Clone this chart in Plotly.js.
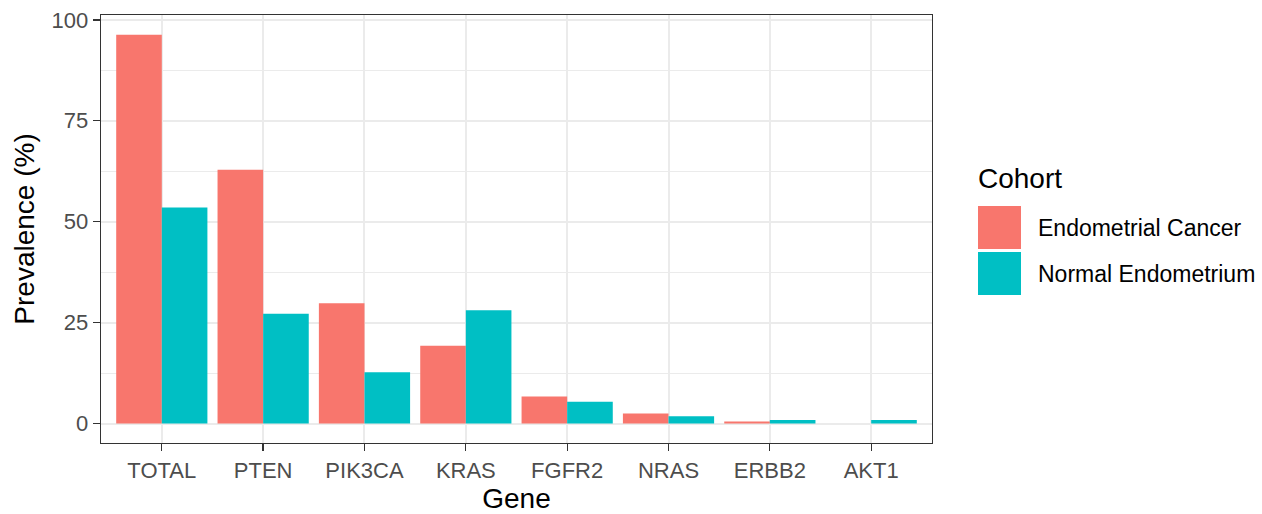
<!DOCTYPE html>
<html>
<head>
<meta charset="utf-8">
<script src="https://cdn.plot.ly/plotly-3.0.1.min.js"></script>
<style>html,body{margin:0;padding:0;background:#fff;}#chart{width:1262px;height:514px;}</style>
</head>
<body>
<div id="chart"></div>
<script>
const genes = ["TOTAL", "PTEN", "PIK3CA", "KRAS", "FGFR2", "NRAS", "ERBB2", "AKT1"];
const cancerValues = [96.3, 62.9, 29.8, 19.3, 6.7, 2.5, 0.5, 0];
const normalValues = [53.5, 27.2, 12.7, 28.1, 5.4, 1.8, 0.9, 0.9];
const seriesNames = ["Endometrial Cancer", "Normal Endometrium"];
const yTicks = [0, 25, 50, 75, 100];

const colors = ["#F8766D", "#00BFC4"];
const FONT = "Liberation Sans, Arial, sans-serif";

const traces = [
  {type: "bar", name: seriesNames[0], x: genes, y: cancerValues, marker: {color: colors[0]}, showlegend: false, hoverinfo: "x+y"},
  {type: "bar", name: seriesNames[1], x: genes, y: normalValues, marker: {color: colors[1]}, showlegend: false, hoverinfo: "x+y"}
];

// legend geometry in paper coords (plot area: x 101..932, y 15..443)
const px = v => (v - 101) / 831;
const py = v => (443 - v) / 428;

const shapes = [
  {type: "rect", xref: "paper", yref: "paper", x0: px(978), x1: px(1021), y0: py(249), y1: py(206), fillcolor: colors[0], line: {width: 0}},
  {type: "rect", xref: "paper", yref: "paper", x0: px(978), x1: px(1021), y0: py(295), y1: py(252), fillcolor: colors[1], line: {width: 0}}
];
const annotations = [
  {xref: "paper", yref: "paper", x: px(976), y: py(178), xanchor: "left", yanchor: "middle", showarrow: false, text: "Cohort", font: {family: FONT, size: 28, color: "#000"}},
  {xref: "paper", yref: "paper", x: px(1036), y: py(228), xanchor: "left", yanchor: "middle", showarrow: false, text: seriesNames[0], font: {family: FONT, size: 23, color: "#000"}},
  {xref: "paper", yref: "paper", x: px(1036), y: py(274), xanchor: "left", yanchor: "middle", showarrow: false, text: seriesNames[1], font: {family: FONT, size: 23, color: "#000"}}
];

const layout = {
  width: 1262, height: 514,
  margin: {l: 101, r: 330, t: 15, b: 71, pad: 0},
  paper_bgcolor: "#fff", plot_bgcolor: "#fff",
  barmode: "group", bargap: 0.1, bargroupgap: 0,
  font: {family: FONT, color: "#4d4d4d"},
  xaxis: {
    type: "category", range: [-0.6, 7.6],
    showgrid: true, gridcolor: "#ebebeb", gridwidth: 2,
    showline: true, linecolor: "#333", linewidth: 1.3, mirror: true,
    ticks: "outside", ticklen: 7, tickcolor: "#333", tickwidth: 1.3,
    tickfont: {family: FONT, size: 22, color: "#4d4d4d"},
    title: {text: "Gene", font: {family: FONT, size: 28, color: "#000"}, standoff: 6},
    zeroline: false, fixedrange: true
  },
  yaxis: {
    range: [-4.8, 101.2], tickvals: yTicks, ticktext: yTicks.map(String),
    showgrid: true, gridcolor: "#ebebeb", gridwidth: 2,
    minor: {tick0: 12.5, dtick: 25, showgrid: true, gridcolor: "#ebebeb", gridwidth: 1, ticks: ""},
    showline: true, linecolor: "#333", linewidth: 1.3, mirror: true,
    ticks: "outside", ticklen: 7, tickcolor: "#333", tickwidth: 1.3,
    tickfont: {family: FONT, size: 22, color: "#4d4d4d"},
    title: {text: "Prevalence (%)", font: {family: FONT, size: 28, color: "#000"}, standoff: 8},
    zeroline: false, fixedrange: true
  },
  shapes: shapes,
  annotations: annotations,
  showlegend: false
};

Plotly.newPlot("chart", traces, layout, {displayModeBar: false, staticPlot: true});
</script>
</body>
</html>
